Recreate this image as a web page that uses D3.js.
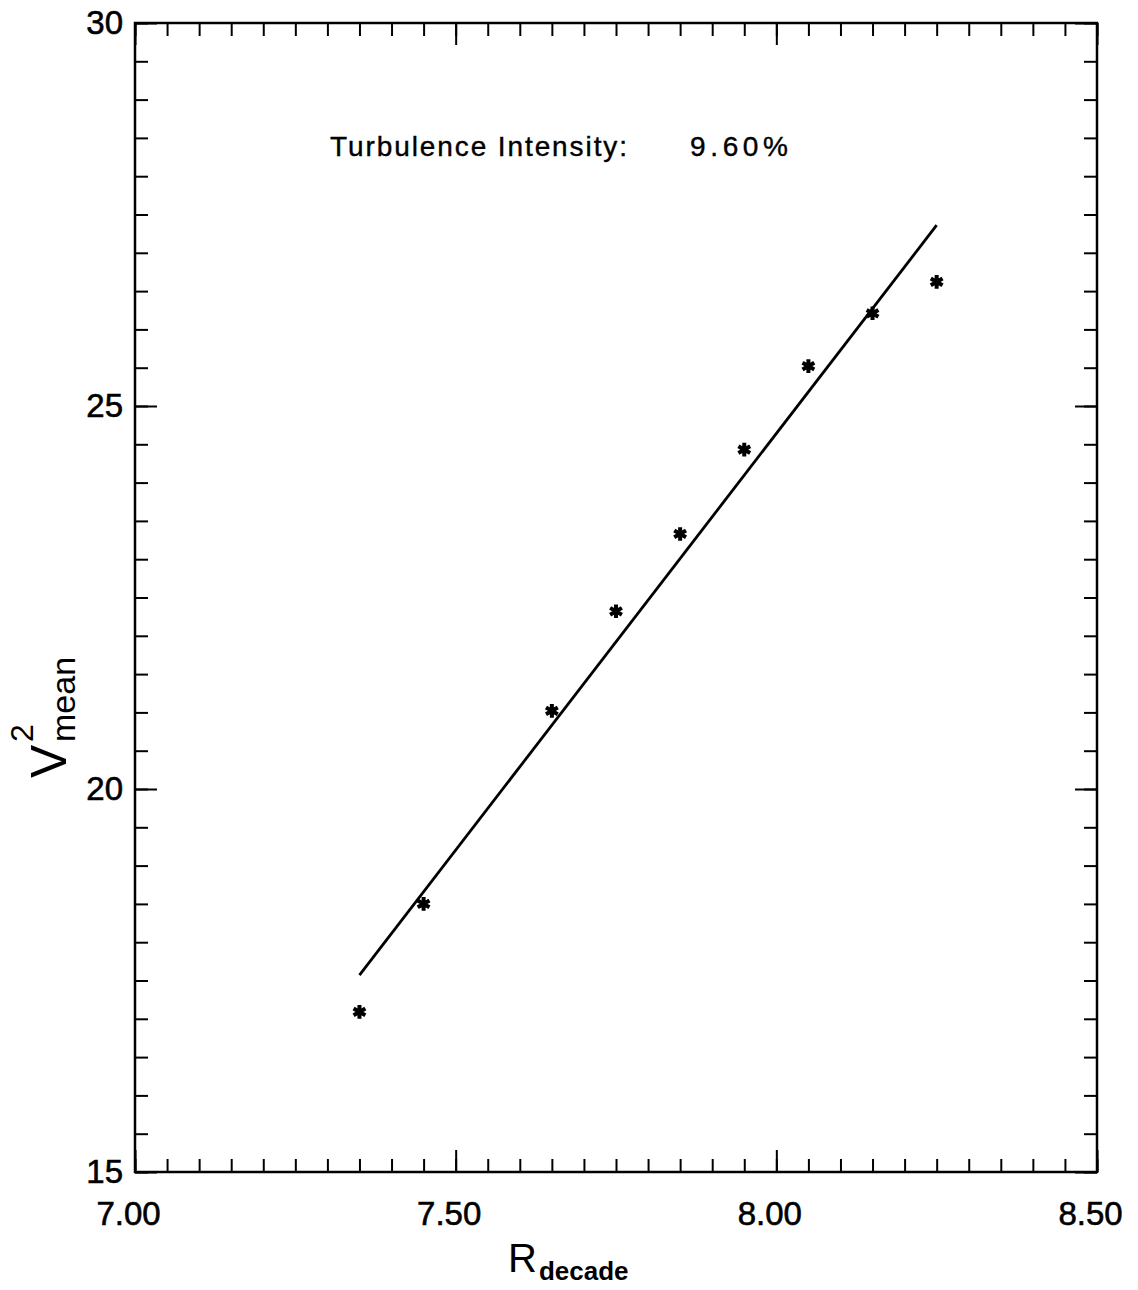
<!DOCTYPE html>
<html>
<head>
<meta charset="utf-8">
<script src="https://cdn.jsdelivr.net/npm/d3@7"></script>
<style>
  body { margin: 0; background: #fff; }
  svg { display: block; }
  text { font-family: "Liberation Sans", Arial, sans-serif; fill: #000; }
</style>
</head>
<body>
<div id="chart"></div>
<script>
// values
var rDecade = [7.35, 7.45, 7.65, 7.75, 7.85, 7.95, 8.05, 8.15, 8.25];
var v2Mean = [17.09, 18.50, 21.02, 22.32, 23.33, 24.43, 25.52, 26.21, 26.62];

// straight-line fit drawn through the points
var fitR = [7.35, 8.25];
var fitV = [17.57, 27.36];

var xDomain = [7.0, 8.5];
var yDomain = [15, 30];
var xMajorTicks = [7.0, 7.5, 8.0, 8.5];
var yMajorTicks = [15, 20, 25, 30];
var xMinorTicks = d3.range(0, 31).map(function(i) { return 7 + i * 0.05; });
var yMinorTicks = d3.range(0, 31).map(function(i) { return 15 + i * 0.5; });

var turbulenceLabel = "Turbulence Intensity:";
var turbulenceValue = "9.60%";

(function(d3) {

    "use strict";

    var width = 1138,
        height = 1290,
        left = 135,
        right = 1097,
        top = 23,
        bottom = 1172,
        minorLen = 13,
        majorLen = 22;

    var svg = d3.select("#chart")
        .append("svg")
        .attr("width", width)
        .attr("height", height);

    var x = d3.scaleLinear().domain(xDomain).range([left, right]);
    var y = d3.scaleLinear().domain(yDomain).range([bottom, top]);

    /**
     * Add an axis with inward ticks
     * @param {Function} axis d3 axis generator
     * @param {String} transform group transform
     * @return {Object} axis group
     */
    function addAxis(axis, transform) {
        var g = svg.append("g")
            .attr("transform", transform)
            .style("font-size", "33px")
            .call(axis);
        g.select(".domain").remove();
        g.selectAll("line").attr("stroke", "#000").attr("stroke-width", 2);
        g.selectAll("text")
            .style("font-family", "\"Liberation Sans\", Arial, sans-serif")
            .attr("stroke", "#000")
            .attr("stroke-width", 0.6);
        return g;
    }

    var noLabel = function() { return ""; };

    // bottom
    addAxis(d3.axisBottom(x).tickValues(xMinorTicks).tickSize(-minorLen).tickFormat(noLabel),
        "translate(0," + bottom + ")");
    addAxis(d3.axisBottom(x).tickValues(xMajorTicks).tickSize(-majorLen).tickPadding(30)
        .tickFormat(d3.format(".2f")), "translate(0," + bottom + ")")
        .selectAll("text").attr("dx", -7);
    // top
    addAxis(d3.axisTop(x).tickValues(xMinorTicks).tickSize(-minorLen).tickFormat(noLabel),
        "translate(0," + top + ")");
    addAxis(d3.axisTop(x).tickValues(xMajorTicks).tickSize(-majorLen).tickFormat(noLabel),
        "translate(0," + top + ")");
    // left
    addAxis(d3.axisLeft(y).tickValues(yMinorTicks).tickSize(-minorLen).tickFormat(noLabel),
        "translate(" + left + ",0)");
    addAxis(d3.axisLeft(y).tickValues(yMajorTicks).tickSize(-majorLen).tickPadding(12)
        .tickFormat(d3.format("d")), "translate(" + left + ",0)");
    // right
    addAxis(d3.axisRight(y).tickValues(yMinorTicks).tickSize(-minorLen).tickFormat(noLabel),
        "translate(" + right + ",0)");
    addAxis(d3.axisRight(y).tickValues(yMajorTicks).tickSize(-majorLen).tickFormat(noLabel),
        "translate(" + right + ",0)");

    // frame
    svg.append("rect")
        .attr("x", left)
        .attr("y", top)
        .attr("width", right - left)
        .attr("height", bottom - top)
        .attr("fill", "none")
        .attr("stroke", "#000")
        .attr("stroke-width", 2.5);

    // fit line
    svg.append("path")
        .datum(d3.zip(fitR, fitV))
        .attr("fill", "none")
        .attr("stroke", "#000")
        .attr("stroke-width", 2.8)
        .attr("d", d3.line()
            .x(function(d) { return x(d[0]); })
            .y(function(d) { return y(d[1]); }));

    // data points
    svg.selectAll(".pt")
        .data(d3.zip(rDecade, v2Mean))
        .enter()
        .append("path")
        .attr("class", "pt")
        .attr("transform", function(d) {
            return "translate(" + x(d[0]) + "," + y(d[1]) + ")";
        })
        .attr("d", d3.symbol(d3.symbolAsterisk, 130))
        .attr("fill", "none")
        .attr("stroke", "#000")
        .attr("stroke-width", 4);

    // annotation
    svg.append("text")
        .attr("x", 330)
        .attr("y", 156)
        .attr("textLength", 297)
        .attr("lengthAdjust", "spacing")
        .attr("stroke", "#000")
        .attr("stroke-width", 0.4)
        .style("font-size", "28px")
        .text(turbulenceLabel);
    svg.append("text")
        .attr("x", 690)
        .attr("y", 156)
        .attr("textLength", 98)
        .attr("lengthAdjust", "spacing")
        .attr("stroke", "#000")
        .attr("stroke-width", 0.4)
        .style("font-size", "28px")
        .text(turbulenceValue);

    // x title
    var xt = svg.append("text")
        .attr("x", 508)
        .attr("y", 1272);
    xt.append("tspan").style("font-size", "40px").text("R");
    xt.append("tspan")
        .attr("dy", 8)
        .attr("dx", 2)
        .style("font-size", "26px")
        .style("font-weight", "bold")
        .text("decade");

    // y title
    svg.append("text")
        .attr("transform", "translate(66,778) rotate(-90)")
        .style("font-size", "50px")
        .text("V");
    svg.append("text")
        .attr("transform", "translate(33,742) rotate(-90)")
        .style("font-size", "32px")
        .text("2");
    svg.append("text")
        .attr("transform", "translate(75,742) rotate(-90)")
        .style("font-size", "34px")
        .text("mean");

})(d3);
</script>
</body>
</html>
